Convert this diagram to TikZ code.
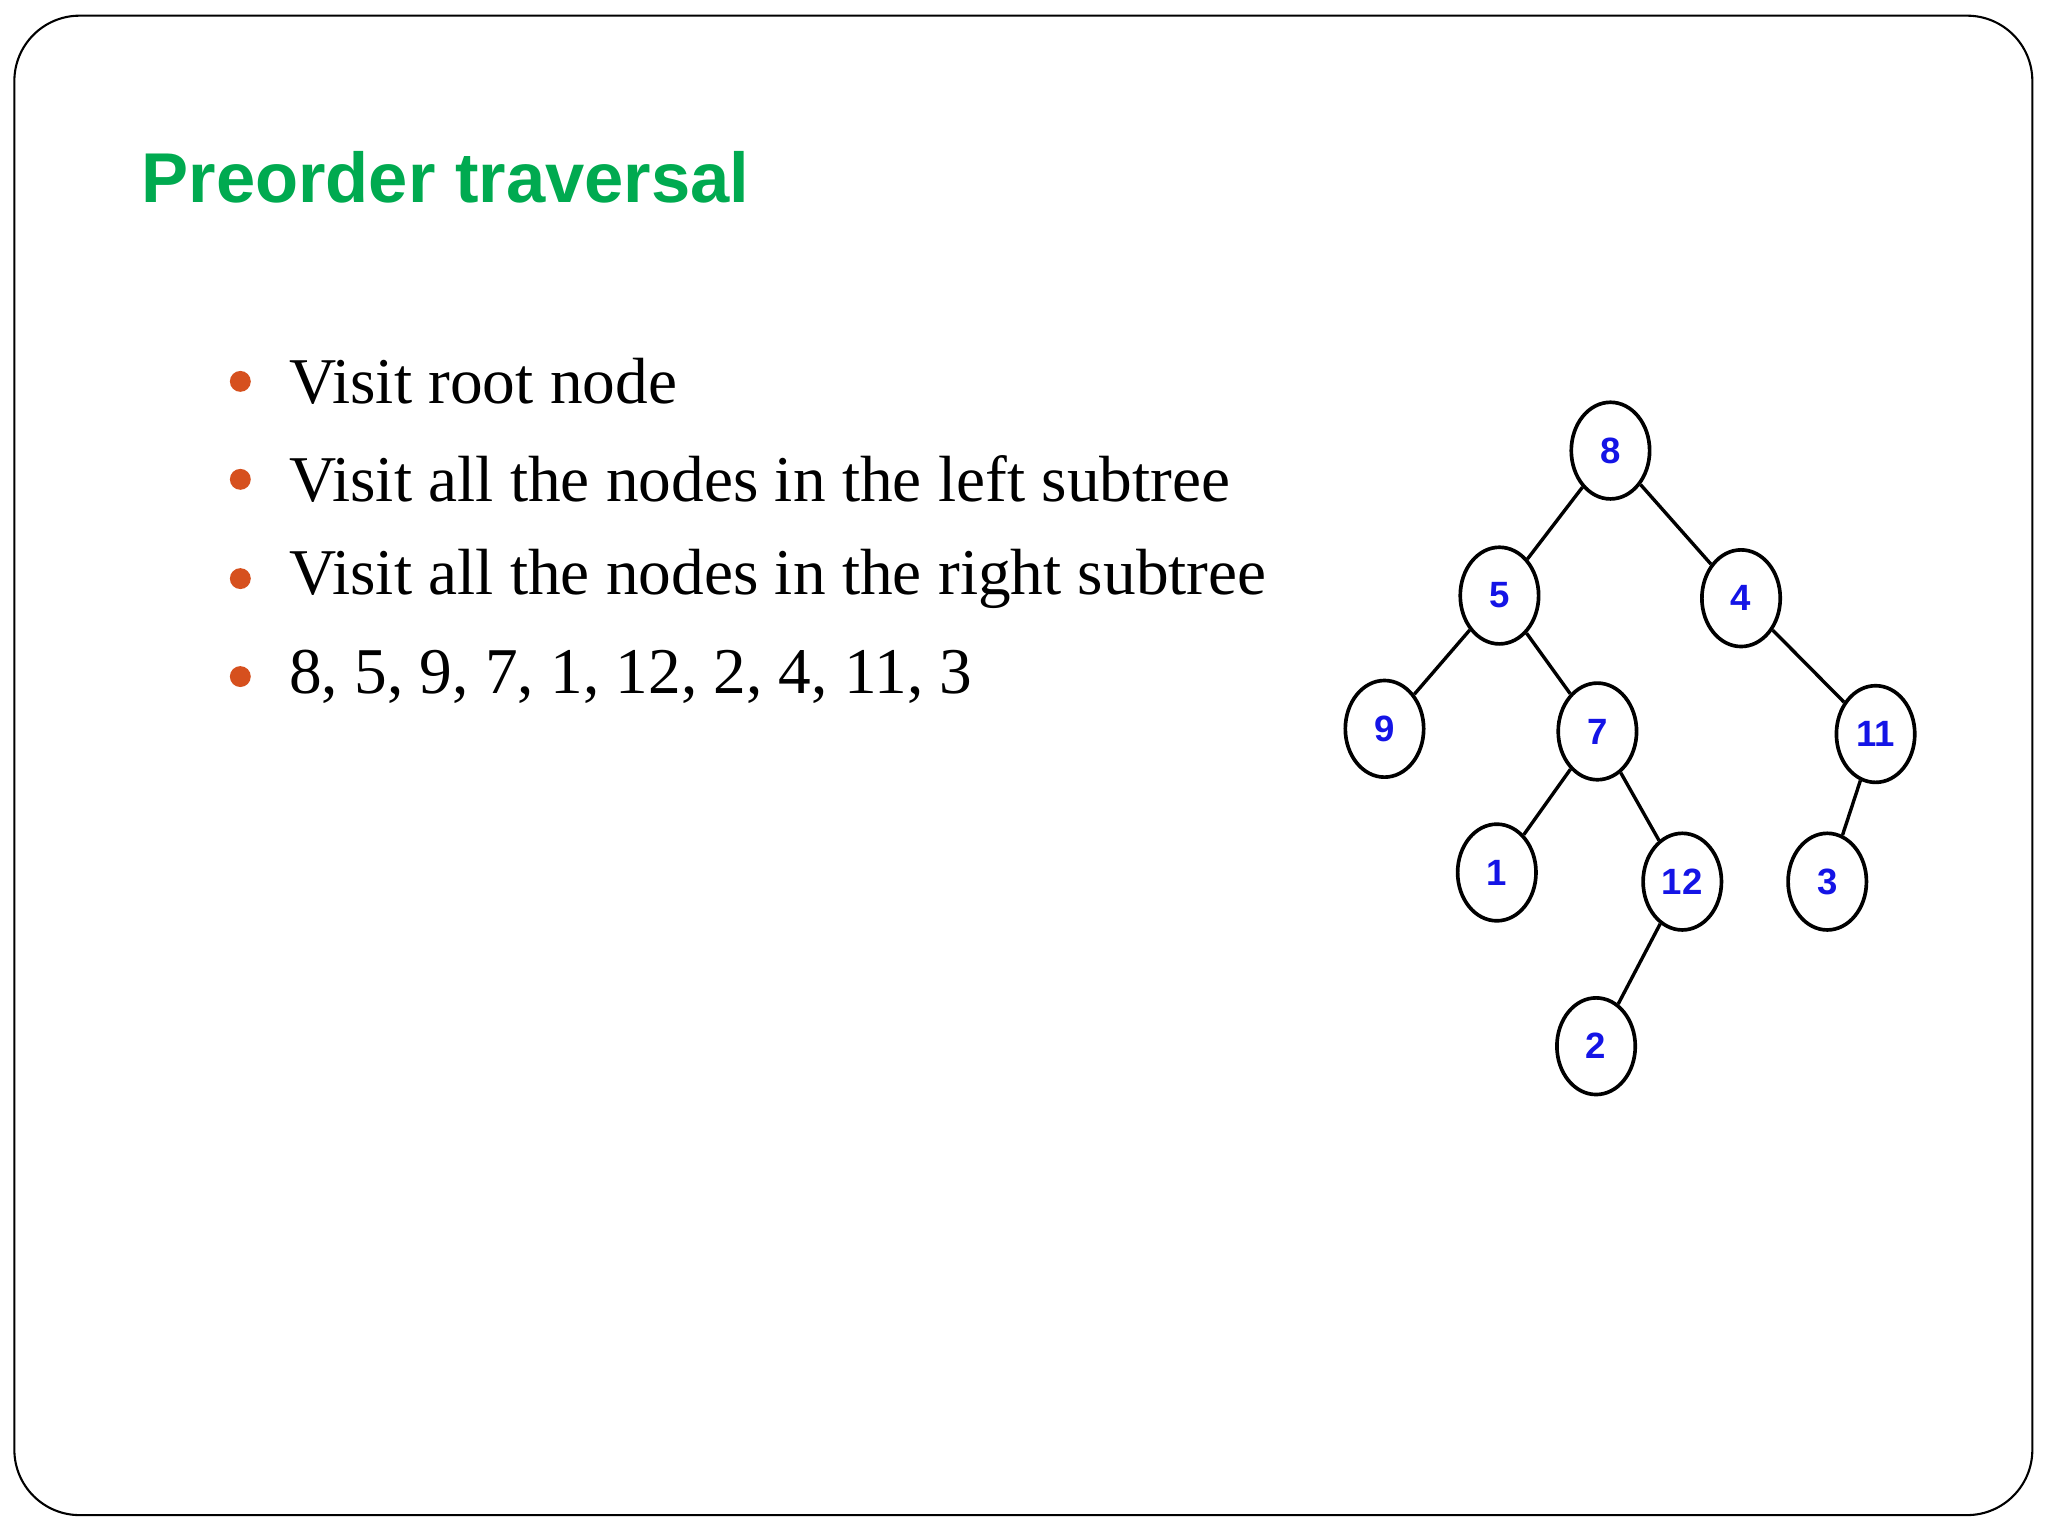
\documentclass[tikz,border=0pt]{standalone}
\usepackage{fontspec}
\setmainfont{Liberation Serif}
\newfontfamily\headfont{Liberation Sans}
\usetikzlibrary{shapes.geometric}
\definecolor{titlegreen}{RGB}{0,170,80}
\definecolor{bulletred}{RGB}{214,80,30}
\definecolor{nodeblue}{RGB}{20,20,230}
\tikzset{
  tnode/.style={ellipse,draw=black,line width=1.4pt,minimum width=30pt,minimum height=37pt,inner sep=0pt,
    font=\headfont\bfseries\fontsize{14}{14}\selectfont,text=nodeblue},
  edge/.style={line width=1.3pt},
  bul/.style={circle,fill=bulletred,minimum size=8pt,inner sep=0pt},
  btext/.style={anchor=west,font=\fontsize{25}{28}\selectfont,inner sep=0pt}
}
\begin{document}
\begin{tikzpicture}[x=0.5pt,y=-0.5pt]
\useasboundingbox (0,0) rectangle (1568,1176);
\fill[white] (0,0) rectangle (1568,1176);
\draw[line width=0.8pt,rounded corners=25pt] (11,12) rectangle (1556,1160);
\node[anchor=base west,inner sep=0pt,text=titlegreen,font=\headfont\bfseries\fontsize{27}{30}\selectfont] (title) at (108,155) {Preorder traversal};
\foreach \y/\t [count=\i] in {292/Visit root node,367/Visit all the nodes in the left subtree,443/Visit all the nodes in the right subtree,518/{8, 5, 9, 7, 1, 12, 2, 4, 11, 3}}{
  \node[bul] (b\i) at (184,\y) {};
  \node[btext] (t\i) at (221,\y) {\t};
}
\node[tnode] (n8) at (1233,345) {8};
\node[tnode] (n5) at (1148,456) {5};
\node[tnode] (n4) at (1333,458) {4};
\node[tnode] (n9) at (1060,558) {9};
\node[tnode] (n7) at (1223,560) {7};
\node[tnode] (n11) at (1436,562) {11};
\node[tnode] (n1) at (1146,668) {1};
\node[tnode] (n12) at (1288,675) {12};
\node[tnode] (n3) at (1399,675) {3};
\node[tnode] (n2) at (1222,801) {2};
\foreach \a/\b in {n8/n5,n8/n4,n5/n9,n5/n7,n4/n11,n7/n1,n7/n12,n11/n3,n12/n2}
  \draw[edge] (\a) -- (\b);
\end{tikzpicture}
\end{document}
